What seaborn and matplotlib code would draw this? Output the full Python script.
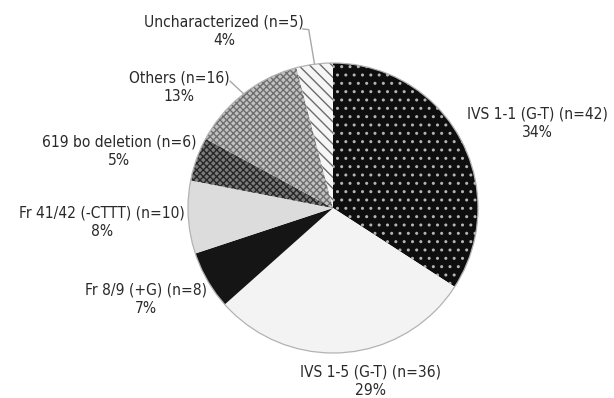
import matplotlib
matplotlib.use("Agg")
import matplotlib.pyplot as plt
from matplotlib import font_manager as fm
import seaborn as sns
import numpy as np
from matplotlib.patches import Circle

# Beta-thalassemia mutation spectrum
categories = ["IVS 1-1 (G-T)", "IVS 1-5 (G-T)", "Fr 8/9 (+G)", "Fr 41/42 (-CTTT)",
              "619 bo deletion", "Others", "Uncharacterized"]
counts = [42, 36, 8, 10, 6, 16, 5]

sns.set_theme(style="white")

# prefer a condensed sans face when one is available
has_condensed = any("DejaVuSansCondensed.ttf" in f.fname for f in fm.fontManager.ttflist)
if has_condensed:
    plt.rcParams["font.family"] = ["DejaVu Sans"]
    label_font = dict(family="DejaVu Sans", stretch="condensed", size=11.2)
else:
    plt.rcParams["font.family"] = ["Liberation Sans", "DejaVu Sans"]
    label_font = dict(family=["Liberation Sans", "DejaVu Sans"], size=10.5)

total = sum(counts)
percents = [round(100 * c / total) for c in counts]

# fill / hatch style of each slice (in slice order)
fills = ["#0e0e0e", "#f3f3f3", "#151515", "#dcdcdc", "#7c7c7c", "#c2c2c2", "#f6f6f6"]
hatches = ["..", None, None, None, "xxxxx", "xxxxx", "\\\\\\"]
hatch_colors = ["#b4b4b4", "#f3f3f3", "#151515", "#dcdcdc", "#262626", "#6e6e6e", "#6c6c6c"]

# label block centres, in units of the pie radius
label_pos = [(1.407, 0.586), (0.262, -1.195), (-1.29, -0.631), (-1.593, -0.10),
             (-1.476, 0.393), (-1.062, 0.834), (-0.752, 1.217)]

fig = plt.figure(figsize=(6.14, 3.98), dpi=100)
fig.patch.set_facecolor("white")
ax = fig.add_axes([183 / 614, 40 / 398, 300 / 614, 300 / 398])

wedges, _ = ax.pie(counts, startangle=90, counterclock=False, radius=1.0,
                   center=(0, 0), wedgeprops=dict(linewidth=0))
for w, fc, h, hc in zip(wedges, fills, hatches, hatch_colors):
    w.set_facecolor(fc)
    w.set_edgecolor(hc)
    w.set_linewidth(0)
    if h:
        w.set_hatch(h)

ax.add_patch(Circle((0, 0), 1.0, fill=False, ec="#b3b3b3", lw=0.9, zorder=5))

text_color = "#2a2a2a"
for cat, n, p, (tx, ty) in zip(categories, counts, percents, label_pos):
    ax.text(tx, ty, f"{cat} (n={n})\n{p}%", ha="center", va="center",
            multialignment="center", color=text_color, linespacing=1.3,
            clip_on=False, **label_font)

# leader lines for the two small upper slices
def mid_point(w):
    ang = np.deg2rad((w.theta1 + w.theta2) / 2)
    return np.cos(ang), np.sin(ang)

ux, uy = mid_point(wedges[6])
ax.plot([-0.21, ux - 0.04, ux], [1.235, 1.23, uy], color="#a8a8a8", lw=1.0,
        clip_on=False, zorder=4)
ox, oy = mid_point(wedges[5])
ax.plot([-0.71, ox], [0.875, oy], color="#a8a8a8", lw=1.0, clip_on=False, zorder=4)

L = 150 / 145
ax.set_xlim(-L, L)
ax.set_ylim(-L, L)
ax.set_aspect("equal")
ax.axis("off")

fig.savefig("out.png", dpi=100)
